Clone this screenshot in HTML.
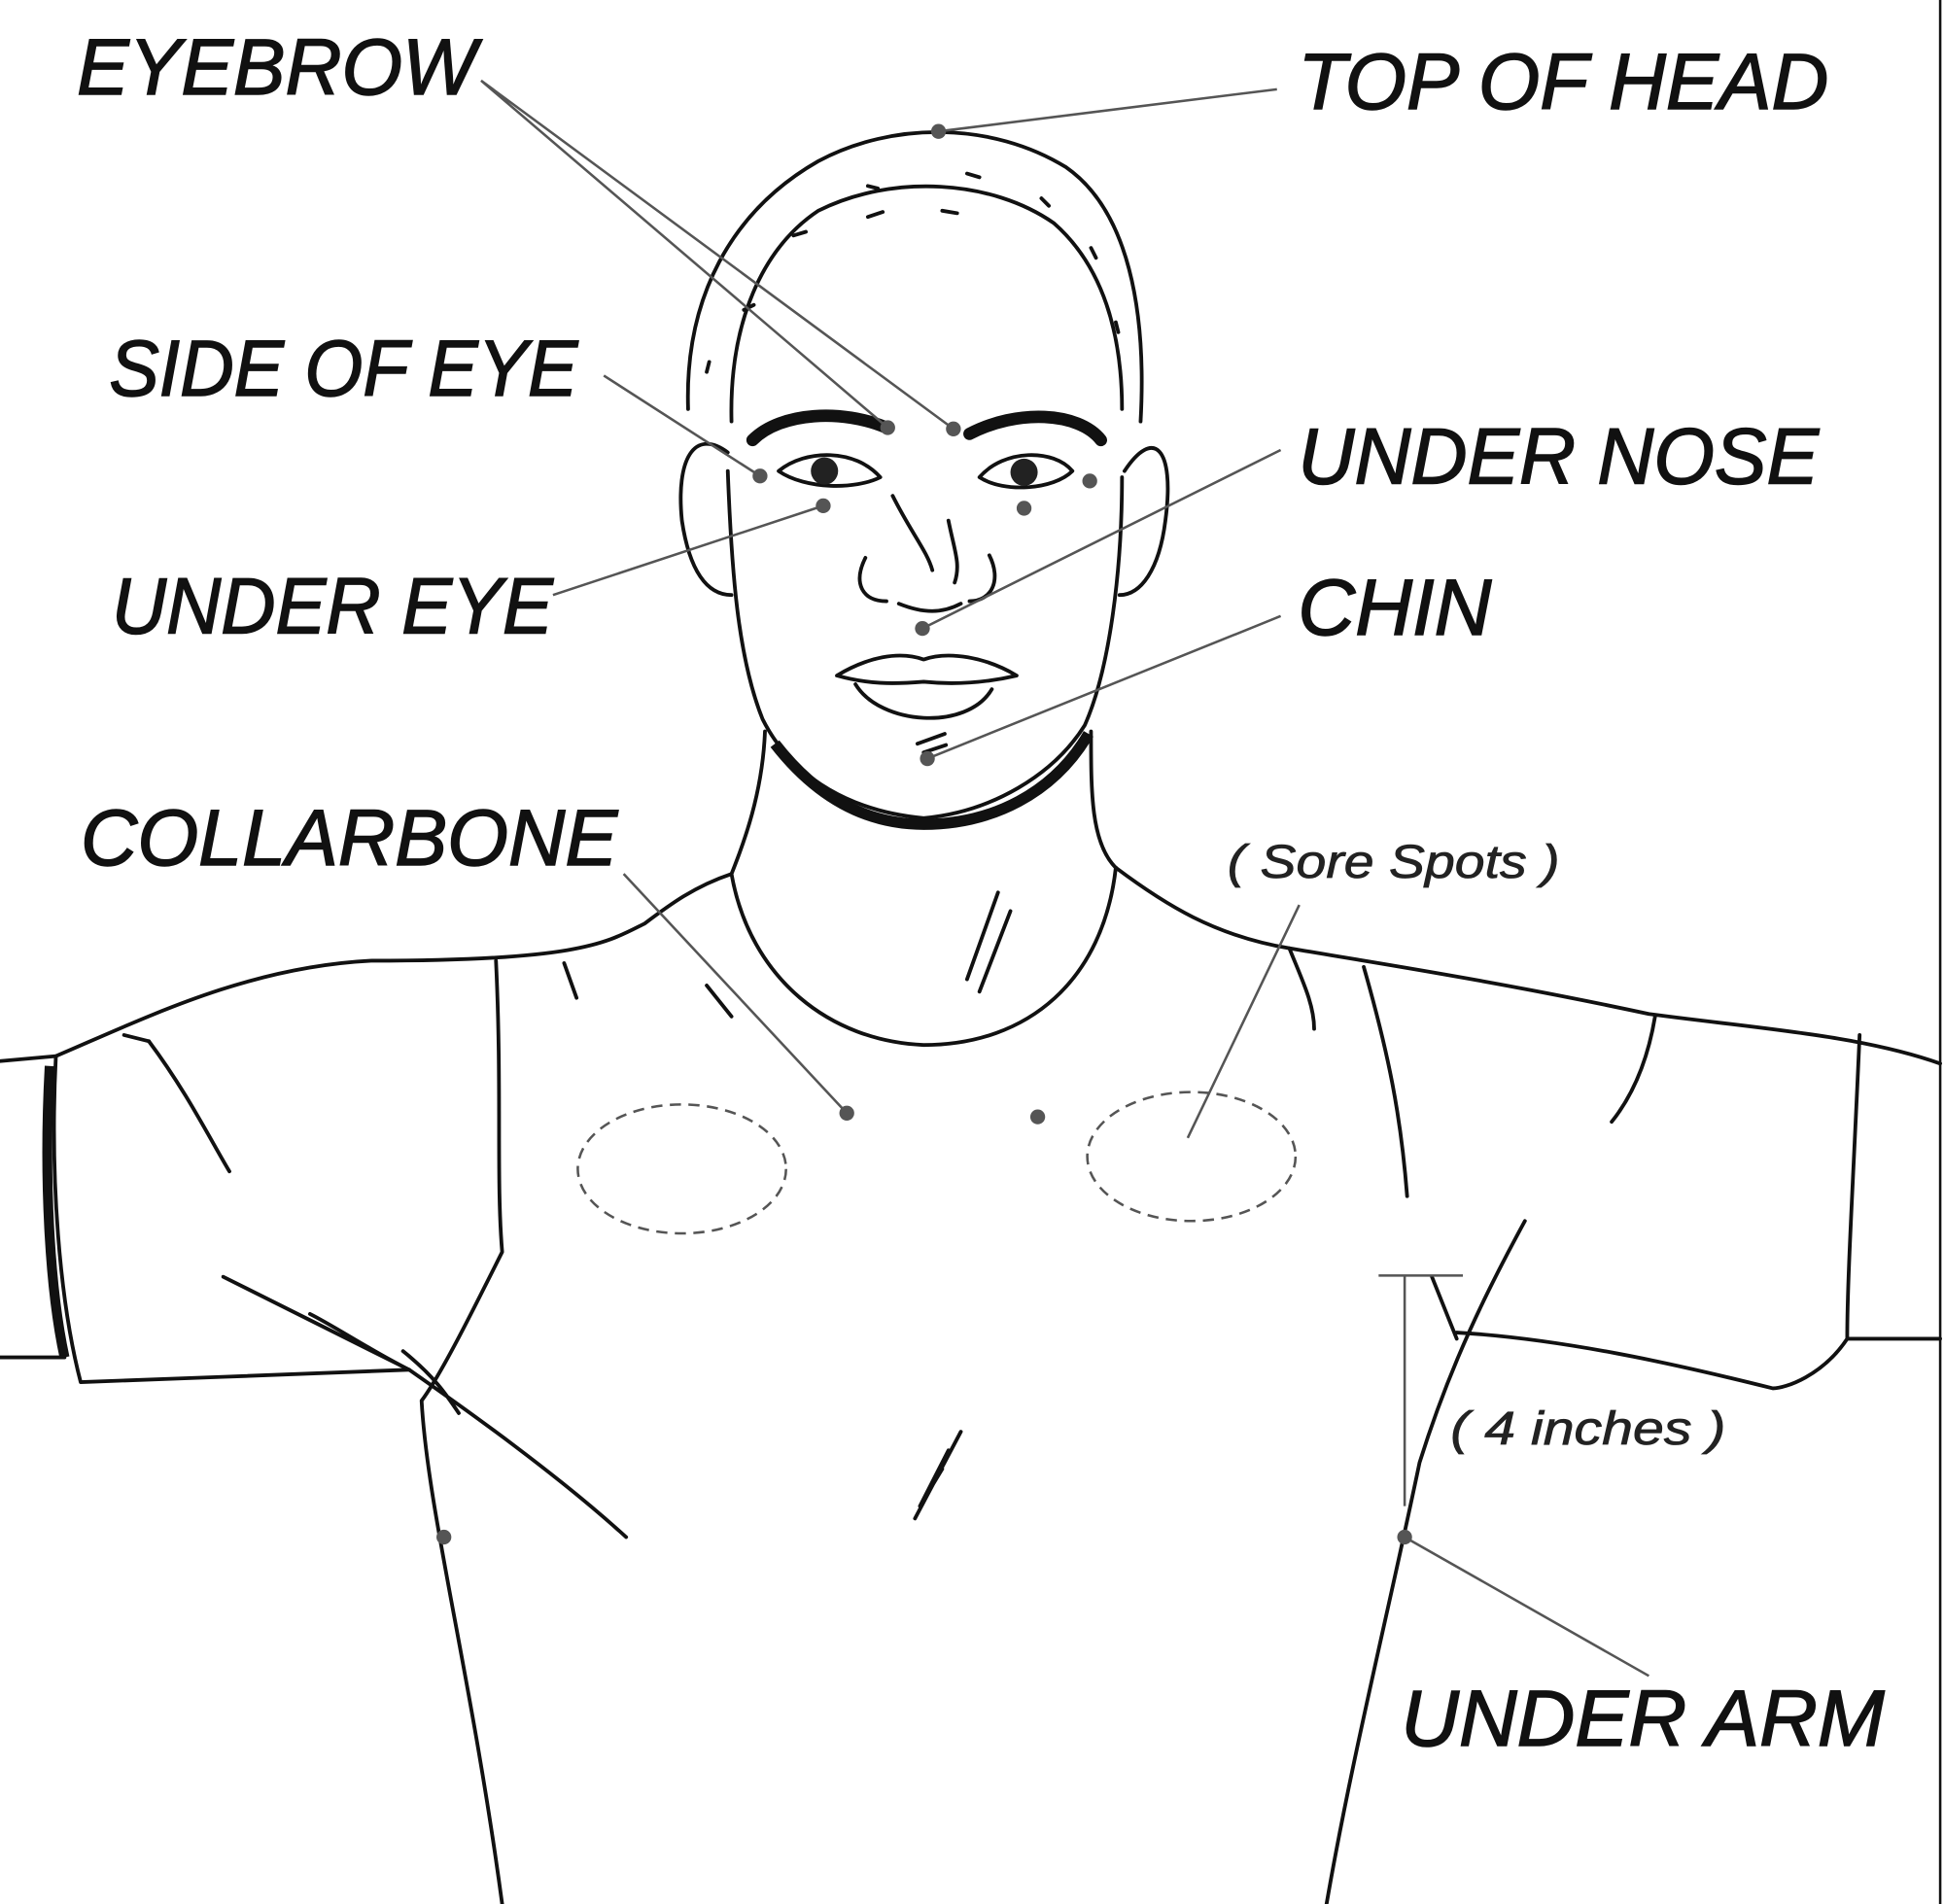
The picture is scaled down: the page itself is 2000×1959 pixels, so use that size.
<!DOCTYPE html>
<html><head><meta charset="utf-8"><style>
html,body{margin:0;padding:0;background:#fff;}
svg{display:block;}
.lbl{font-family:"Liberation Sans",sans-serif;font-style:italic;font-size:64px;fill:#111;stroke:#111;stroke-width:1.2;}
.sm{font-family:"Liberation Sans",sans-serif;font-style:italic;font-size:38px;fill:#222;stroke:#222;stroke-width:0.6;}
.d{stroke:#111;stroke-width:3;fill:none;stroke-linecap:round;stroke-linejoin:round;}
.t{stroke:#111;stroke-width:10;fill:none;stroke-linecap:round;}
.c{stroke:#555;stroke-width:2;fill:none;}
.dot{fill:#555;}
</style></head><body>
<svg width="2000" height="1959" viewBox="0 0 1568 1536" xmlns="http://www.w3.org/2000/svg">
<rect width="1568" height="1536" fill="#fff"/>
<line x1="1565" y1="0" x2="1565" y2="1536" stroke="#111" stroke-width="2"/>
<path class="d" d="M555 330 C552 240 590 170 660 130 C720 98 800 98 860 135 C910 170 925 250 920 340"/>
<path class="d" d="M590 340 C588 260 615 200 660 170 C720 140 800 145 850 180 C890 215 905 270 905 330"/>
<path class="d" d="M600 250 l8 -4 M640 190 l10 -3 M700 150 l8 2 M780 140 l10 3 M840 160 l6 6 M880 200 l4 8 M900 260 l2 8 M570 300 l2 -8 M700 175 l12 -4 M760 170 l12 2"/>
<path class="d" d="M587 380 C590 460 595 530 615 580 C640 630 690 655 745 660 C800 655 850 625 875 585 C895 540 905 460 905 385"/>
<path class="d" d="M587 365 C560 345 545 370 550 420 C556 460 570 480 590 480"/>
<path class="d" d="M907 380 C930 345 948 360 940 420 C935 460 920 480 903 480"/>
<path class="t" d="M607 355 C630 332 680 330 715 345"/>
<path class="t" d="M782 350 C820 330 870 332 888 355"/>
<path class="d" d="M628 380 C650 362 690 362 710 385 C690 395 650 395 628 380Z"/>
<circle cx="665" cy="380" r="11" fill="#222"/>
<path class="d" d="M790 385 C810 362 850 362 865 380 C850 395 810 398 790 385Z"/>
<circle cx="826" cy="381" r="11" fill="#222"/>
<path class="d" d="M720 400 C735 430 748 445 752 460 M765 420 C770 445 775 455 770 470"/>
<path class="d" d="M698 450 C688 470 695 485 715 485 M798 448 C808 468 800 485 782 485 M725 487 C745 495 760 495 775 487"/>
<path class="d" d="M675 545 C700 530 725 525 745 532 C765 525 795 530 820 545 C790 552 765 552 745 550 C720 552 700 552 675 545Z"/>
<path class="d" d="M690 552 C710 585 780 590 800 556"/>
<path class="d" d="M740 600 l22 -8 M745 607 l18 -6"/>
<path class="d" d="M617 590 C615 640 600 680 590 705 M880 590 C880 640 880 680 900 700"/>
<path stroke="#111" stroke-width="9" fill="none" d="M625 600 C660 645 700 665 745 665 C800 665 850 640 878 592"/>
<path class="d" d="M805 720 L780 790 M815 735 L790 800"/>
<path class="d" d="M590 705 C605 790 670 840 745 843 C830 843 890 790 900 700"/>
<path class="d" d="M590 705 C560 715 540 730 520 745 C490 760 470 775 300 775 C200 780 120 820 45 852 L0 856"/>
<path class="d" d="M900 700 C940 730 980 755 1040 765 C1080 772 1200 790 1330 818 C1420 830 1500 835 1565 858"/>
<path stroke="#111" stroke-width="8" fill="none" d="M40 860 C35 950 40 1040 52 1095"/>
<path class="d" d="M45 852 C40 950 48 1050 65 1115 C150 1112 250 1108 330 1105"/>
<path class="d" d="M0 1095 L52 1095 M100 835 L120 840 M455 777 L465 805"/>
<path class="d" d="M400 775 C405 880 400 950 405 1010 C380 1060 355 1110 340 1130 C345 1220 380 1350 405 1536"/>
<path class="d" d="M120 840 C150 880 170 920 185 945 M180 1030 C240 1060 300 1090 330 1105 C380 1140 450 1190 505 1240 M330 1105 C300 1090 270 1070 250 1060 M325 1090 C350 1110 360 1125 370 1140"/>
<path class="d" d="M1500 835 C1495 950 1490 1030 1490 1080 C1470 1110 1440 1120 1430 1120 C1350 1100 1260 1080 1175 1075"/>
<path class="d" d="M1565 1080 L1490 1080 M1335 820 C1330 850 1320 880 1300 905 M1040 765 C1050 790 1060 810 1060 830 M1100 780 C1120 850 1130 900 1135 965"/>
<path class="d" d="M1230 985 C1200 1040 1170 1100 1145 1180 C1120 1300 1090 1420 1070 1536 M1155 1030 L1175 1080"/>
<path class="d" d="M775 1155 L738 1225 M765 1170 L742 1215 M760 1185 L745 1210"/>
<path class="d" d="M570 795 L590 820"/>
<ellipse cx="550" cy="943" rx="84" ry="52" fill="none" stroke="#555" stroke-width="2" stroke-dasharray="9 6"/>
<ellipse cx="961" cy="933" rx="84" ry="52" fill="none" stroke="#555" stroke-width="2" stroke-dasharray="9 6"/>
<path class="c" d="M388 65 L716 345 M388 65 L769 346 M1030 72 L757 106 M487 303 L613 384 M446 480 L664 408 M1033 363 L744 507 M1033 497 L748 612 M503 705 L683 898 M1048 730 L958 918 M1133 1029 L1133 1215 M1112 1029 L1180 1029 M1133 1240 L1330 1352"/>
<g class="dot">
<circle cx="716" cy="345" r="6"/><circle cx="769" cy="346" r="6"/><circle cx="757" cy="106" r="6"/>
<circle cx="613" cy="384" r="6"/><circle cx="664" cy="408" r="6"/><circle cx="879" cy="388" r="6"/>
<circle cx="826" cy="410" r="6"/><circle cx="744" cy="507" r="6"/><circle cx="748" cy="612" r="6"/>
<circle cx="683" cy="898" r="6"/><circle cx="837" cy="901" r="6"/><circle cx="358" cy="1240" r="6"/>
<circle cx="1133" cy="1240" r="6"/>
</g>
<text class="lbl" x="62" y="76" textLength="322" lengthAdjust="spacingAndGlyphs">EYEBROW</text>
<text class="lbl" x="1047" y="88" textLength="428" lengthAdjust="spacingAndGlyphs">TOP OF HEAD</text>
<text class="lbl" x="88" y="319" textLength="378" lengthAdjust="spacingAndGlyphs">SIDE OF EYE</text>
<text class="lbl" x="1047" y="390" textLength="420" lengthAdjust="spacingAndGlyphs">UNDER NOSE</text>
<text class="lbl" x="90" y="511" textLength="356" lengthAdjust="spacingAndGlyphs">UNDER EYE</text>
<text class="lbl" x="1047" y="512" textLength="156" lengthAdjust="spacingAndGlyphs">CHIN</text>
<text class="lbl" x="65" y="698" textLength="433" lengthAdjust="spacingAndGlyphs">COLLARBONE</text>
<text class="lbl" x="1130" y="1408" textLength="390" lengthAdjust="spacingAndGlyphs">UNDER ARM</text>
<text class="sm" x="990" y="708" textLength="268" lengthAdjust="spacingAndGlyphs">( Sore Spots )</text>
<text class="sm" x="1170" y="1165" textLength="222" lengthAdjust="spacingAndGlyphs">( 4 inches )</text>
</svg>
</body></html>
